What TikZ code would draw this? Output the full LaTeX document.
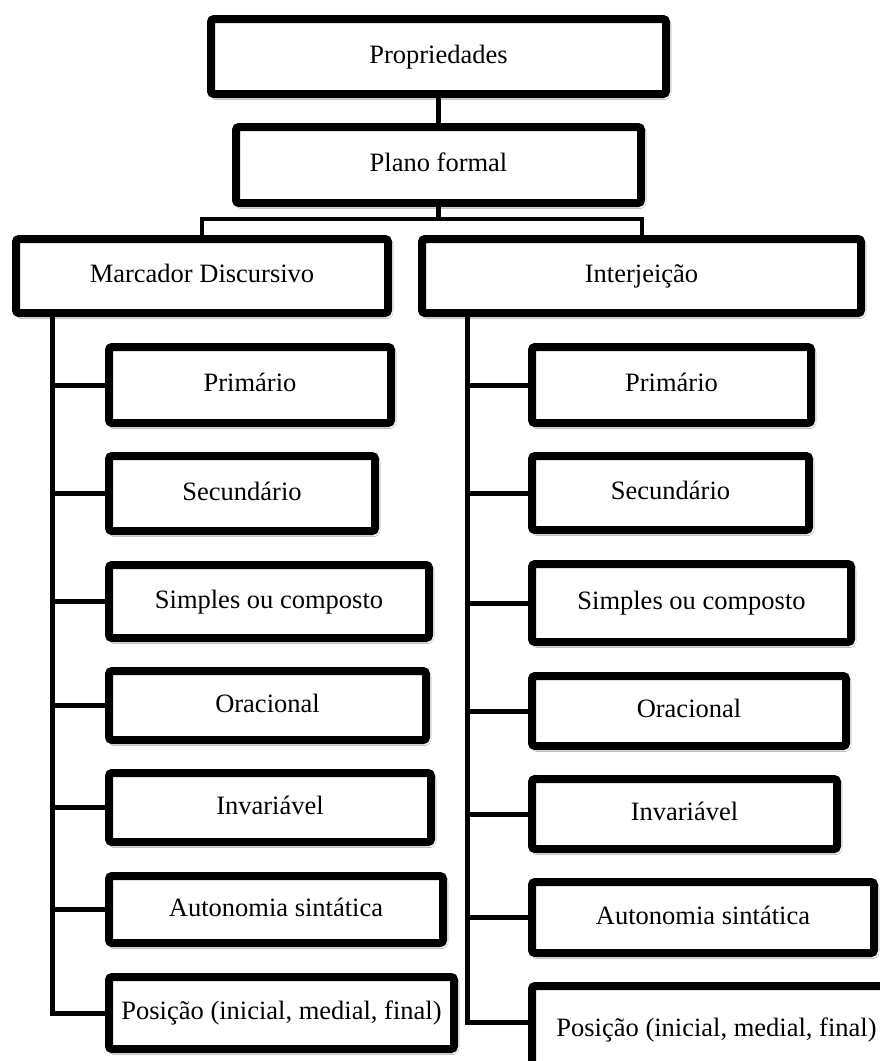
\documentclass[tikz,border=0pt]{standalone}
\usepackage{fontspec}
\setmainfont{Liberation Serif}
\usetikzlibrary{shadows.blur}
\begin{document}
\begin{tikzpicture}[x=1pt,y=-1pt,
  boxnode/.style={draw, line width=8pt, fill=white, rounded corners=3pt, inner sep=0pt,
    text height=17.5pt, text depth=4pt,
    font=\fontsize{26.5}{30}\selectfont,
    blur shadow={shadow xshift=2pt, shadow yshift=-2.5pt, shadow blur radius=3pt, shadow opacity=35}},
  conn/.style={line width=5pt},
  barline/.style={line width=4pt}]
\useasboundingbox (0,0) rectangle (880,1061);
\clip (0,0) rectangle (880,1061);
\fill[white] (0,0) rectangle (880,1061);
% top
\node[boxnode, minimum width=455pt, minimum height=75pt] (P) at (438.5,56.5) {Propriedades};
\node[boxnode, minimum width=405pt, minimum height=76pt] (F) at (438.5,165) {Plano formal};
\node[boxnode, minimum width=372pt, minimum height=74pt] (M) at (202,276) {Marcador Discursivo};
\node[boxnode, minimum width=439pt, minimum height=74pt] (I) at (641.5,276) {Interjeição};
% left column
\node[boxnode, minimum width=282pt, minimum height=76pt] (L1) at (250,385) {Primário};
\node[boxnode, minimum width=266pt, minimum height=75pt] (L2) at (242,493.5) {Secundário};
\node[boxnode, minimum width=320pt, minimum height=73pt] (L3) at (269,601.5) {Simples ou composto};
\node[boxnode, minimum width=317pt, minimum height=69pt] (L4) at (267.5,705.5) {Oracional};
\node[boxnode, minimum width=322pt, minimum height=69pt] (L5) at (270,807.5) {Invariável};
\node[boxnode, minimum width=334pt, minimum height=67pt] (L6) at (276,909.5) {Autonomia sintática};
\node[boxnode, minimum width=345pt, minimum height=72pt] (L7) at (281.5,1013) {Posição (inicial, medial, final)};
% right column
\node[boxnode, minimum width=279pt, minimum height=76pt] (R1) at (671.5,385) {Primário};
\node[boxnode, minimum width=277pt, minimum height=74pt] (R2) at (670.5,493) {Secundário};
\node[boxnode, minimum width=319pt, minimum height=78pt] (R3) at (691.5,603) {Simples ou composto};
\node[boxnode, minimum width=314pt, minimum height=70pt] (R4) at (689,711) {Oracional};
\node[boxnode, minimum width=305pt, minimum height=70pt] (R5) at (684.5,814) {Invariável};
\node[boxnode, minimum width=342pt, minimum height=71pt] (R6) at (703,917.5) {Autonomia sintática};
\node[boxnode, minimum width=369pt, minimum height=88pt] (R7) at (716.5,1030) {Posição (inicial, medial, final)};
% connectors
\coordinate (bar) at (0,219);
\coordinate (tl) at (52,0);
\coordinate (tr) at (467,0);
\draw[conn] (P.south) -- (F.north);
\draw[conn] (F.south) -- (F.south |- bar);
\draw[barline] (M.north) -- (M.north |- bar) -- (I.north |- bar) -- (I.north);
\draw[conn] (M.south -| tl) -- (tl |- L7.west) -- (L7.west);
\foreach \n in {L1,L2,L3,L4,L5,L6}{
  \draw[conn] (tl |- \n.west) -- (\n.west);
}
\coordinate (r7in) at ([yshift=8pt]R7.west);
\draw[conn] (I.south -| tr) -- (tr |- r7in) -- (r7in);
\foreach \n in {R1,R2,R3,R4,R5,R6}{
  \draw[conn] (tr |- \n.west) -- (\n.west);
}
\end{tikzpicture}
\end{document}
